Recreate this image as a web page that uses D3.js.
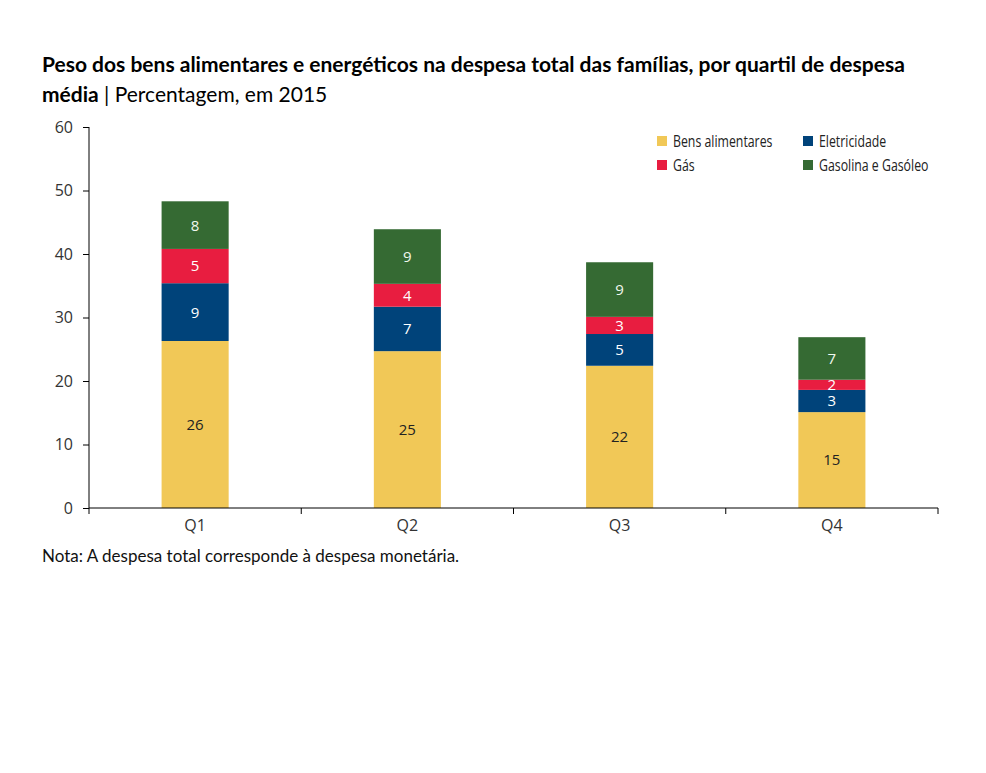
<!DOCTYPE html>
<html>
<head>
<meta charset="utf-8">
<script src="https://cdn.jsdelivr.net/npm/d3@7"></script>
<style>
  body { margin: 0; background: #fff; }
  svg text { font-family: "Open Sans", "Noto Sans", sans-serif; }
</style>
</head>
<body>
<div id="chart"></div>
<script>
// data
const quartis = ["Q1", "Q2", "Q3", "Q4"];
const series = ["Bens alimentares", "Eletricidade", "Gás", "Gasolina e Gasóleo"];
const bensAlimentares = [26.3, 24.7, 22.4, 15.1];
const eletricidade = [9.1, 7.0, 5.0, 3.5];
const gas = [5.4, 3.6, 2.7, 1.6];
const gasolina = [7.5, 8.6, 8.6, 6.7];
const rotulos = [[26, 9, 5, 8], [25, 7, 4, 9], [22, 5, 3, 9], [15, 3, 2, 7]];
const yTicks = [0, 10, 20, 30, 40, 50, 60];
const cores = ["#f1c857", "#00437a", "#e81d40", "#356a33"];
const corTexto = ["#222", "#fff", "#fff", "#f0f8ee"];

const W = 986, H = 773;
const m = { left: 89, right: 48, top: 127, bottom: 265 };

const svg = d3.select("#chart").append("svg")
    .attr("width", W).attr("height", H);

// title
const t = svg.append("text").attr("x", 42).attr("y", 72)
    .style("font-family", "Lato, 'Open Sans', sans-serif")
    .style("font-size", "21px").style("fill", "#000");
t.append("tspan").style("font-weight", "bold")
    .text("Peso dos bens alimentares e energéticos na despesa total das famílias, por quartil de despesa");
const t2 = svg.append("text").attr("x", 42).attr("y", 102)
    .style("font-family", "Lato, 'Open Sans', sans-serif")
    .style("font-size", "21px").style("fill", "#000");
t2.append("tspan").style("font-weight", "bold").text("média");
t2.append("tspan").text(" | Percentagem, em 2015");

const rows = quartis.map((q, i) => ({
    q: q,
    "Bens alimentares": bensAlimentares[i],
    "Eletricidade": eletricidade[i],
    "Gás": gas[i],
    "Gasolina e Gasóleo": gasolina[i],
    lab: rotulos[i]
}));

const x = d3.scaleBand().domain(quartis)
    .range([m.left, W - m.right]).paddingInner(0.684).paddingOuter(0.342);
const y = d3.scaleLinear().domain([0, 60]).range([H - m.bottom, m.top]);

const stack = d3.stack().keys(series)(rows);

const g = svg.append("g");
stack.forEach((layer, si) => {
    g.selectAll(".s" + si).data(layer).enter().append("rect")
        .attr("x", d => x(d.data.q))
        .attr("width", x.bandwidth())
        .attr("y", d => y(d[1]))
        .attr("height", d => y(d[0]) - y(d[1]))
        .style("fill", cores[si]);
    g.selectAll(".l" + si).data(layer).enter().append("text")
        .attr("x", d => x(d.data.q) + x.bandwidth() / 2)
        .attr("y", d => (y(d[0]) + y(d[1])) / 2)
        .attr("dy", "0.36em")
        .attr("text-anchor", "middle")
        .style("font-size", "15px")
        .style("fill", corTexto[si])
        .text(d => d.data.lab[si]);
});

// y axis
const yAxis = svg.append("g").attr("transform", "translate(" + m.left + ",0)")
    .call(d3.axisLeft(y).tickValues(yTicks).tickSize(6).tickPadding(10));
yAxis.selectAll("text").style("font-size", "16px").style("fill", "#333");
yAxis.selectAll("line, path").style("stroke", "#000");
yAxis.select(".domain").attr("d", "M0," + m.top + "V" + y(0));

// x axis
const xAxis = svg.append("g").attr("transform", "translate(0," + y(0) + ")")
    .call(d3.axisBottom(x).tickSize(0).tickPadding(12));
xAxis.select(".domain").attr("d", "M" + m.left + ",0H" + (W - m.right)).style("stroke", "#000");
xAxis.selectAll("text").style("font-size", "16px").style("fill", "#333");
const step = x.step();
xAxis.selectAll(".sep").data(d3.range(quartis.length + 1)).enter().append("line")
    .attr("x1", i => m.left + i * step).attr("x2", i => m.left + i * step)
    .attr("y1", 0).attr("y2", 6).style("stroke", "#000");

// legend
const leg = svg.append("g");
const legPos = [[657, 141], [803, 141], [657, 165], [803, 165]];
const legOrder = [0, 1, 2, 3];
legOrder.forEach((si, k) => {
    const p = legPos[k];
    leg.append("rect").attr("x", p[0]).attr("y", p[1] - 5).attr("width", 10).attr("height", 10)
        .style("fill", cores[si]);
    leg.append("text").attr("x", p[0] + 16).attr("y", p[1]).attr("dy", "0.35em")
        .attr("transform", "translate(" + (p[0] + 16) + ",0) scale(0.77,1) translate(" + -(p[0] + 16) + ",0)")
        .style("font-size", "16px").style("fill", "#222")
        .text(series[si]);
});

// note
svg.append("text").attr("x", 42).attr("y", 562)
    .style("font-size", "17px").style("fill", "#111")
    .style("font-family", "Lato, 'Open Sans', sans-serif")
    .text("Nota: A despesa total corresponde à despesa monetária.");
</script>
</body>
</html>
